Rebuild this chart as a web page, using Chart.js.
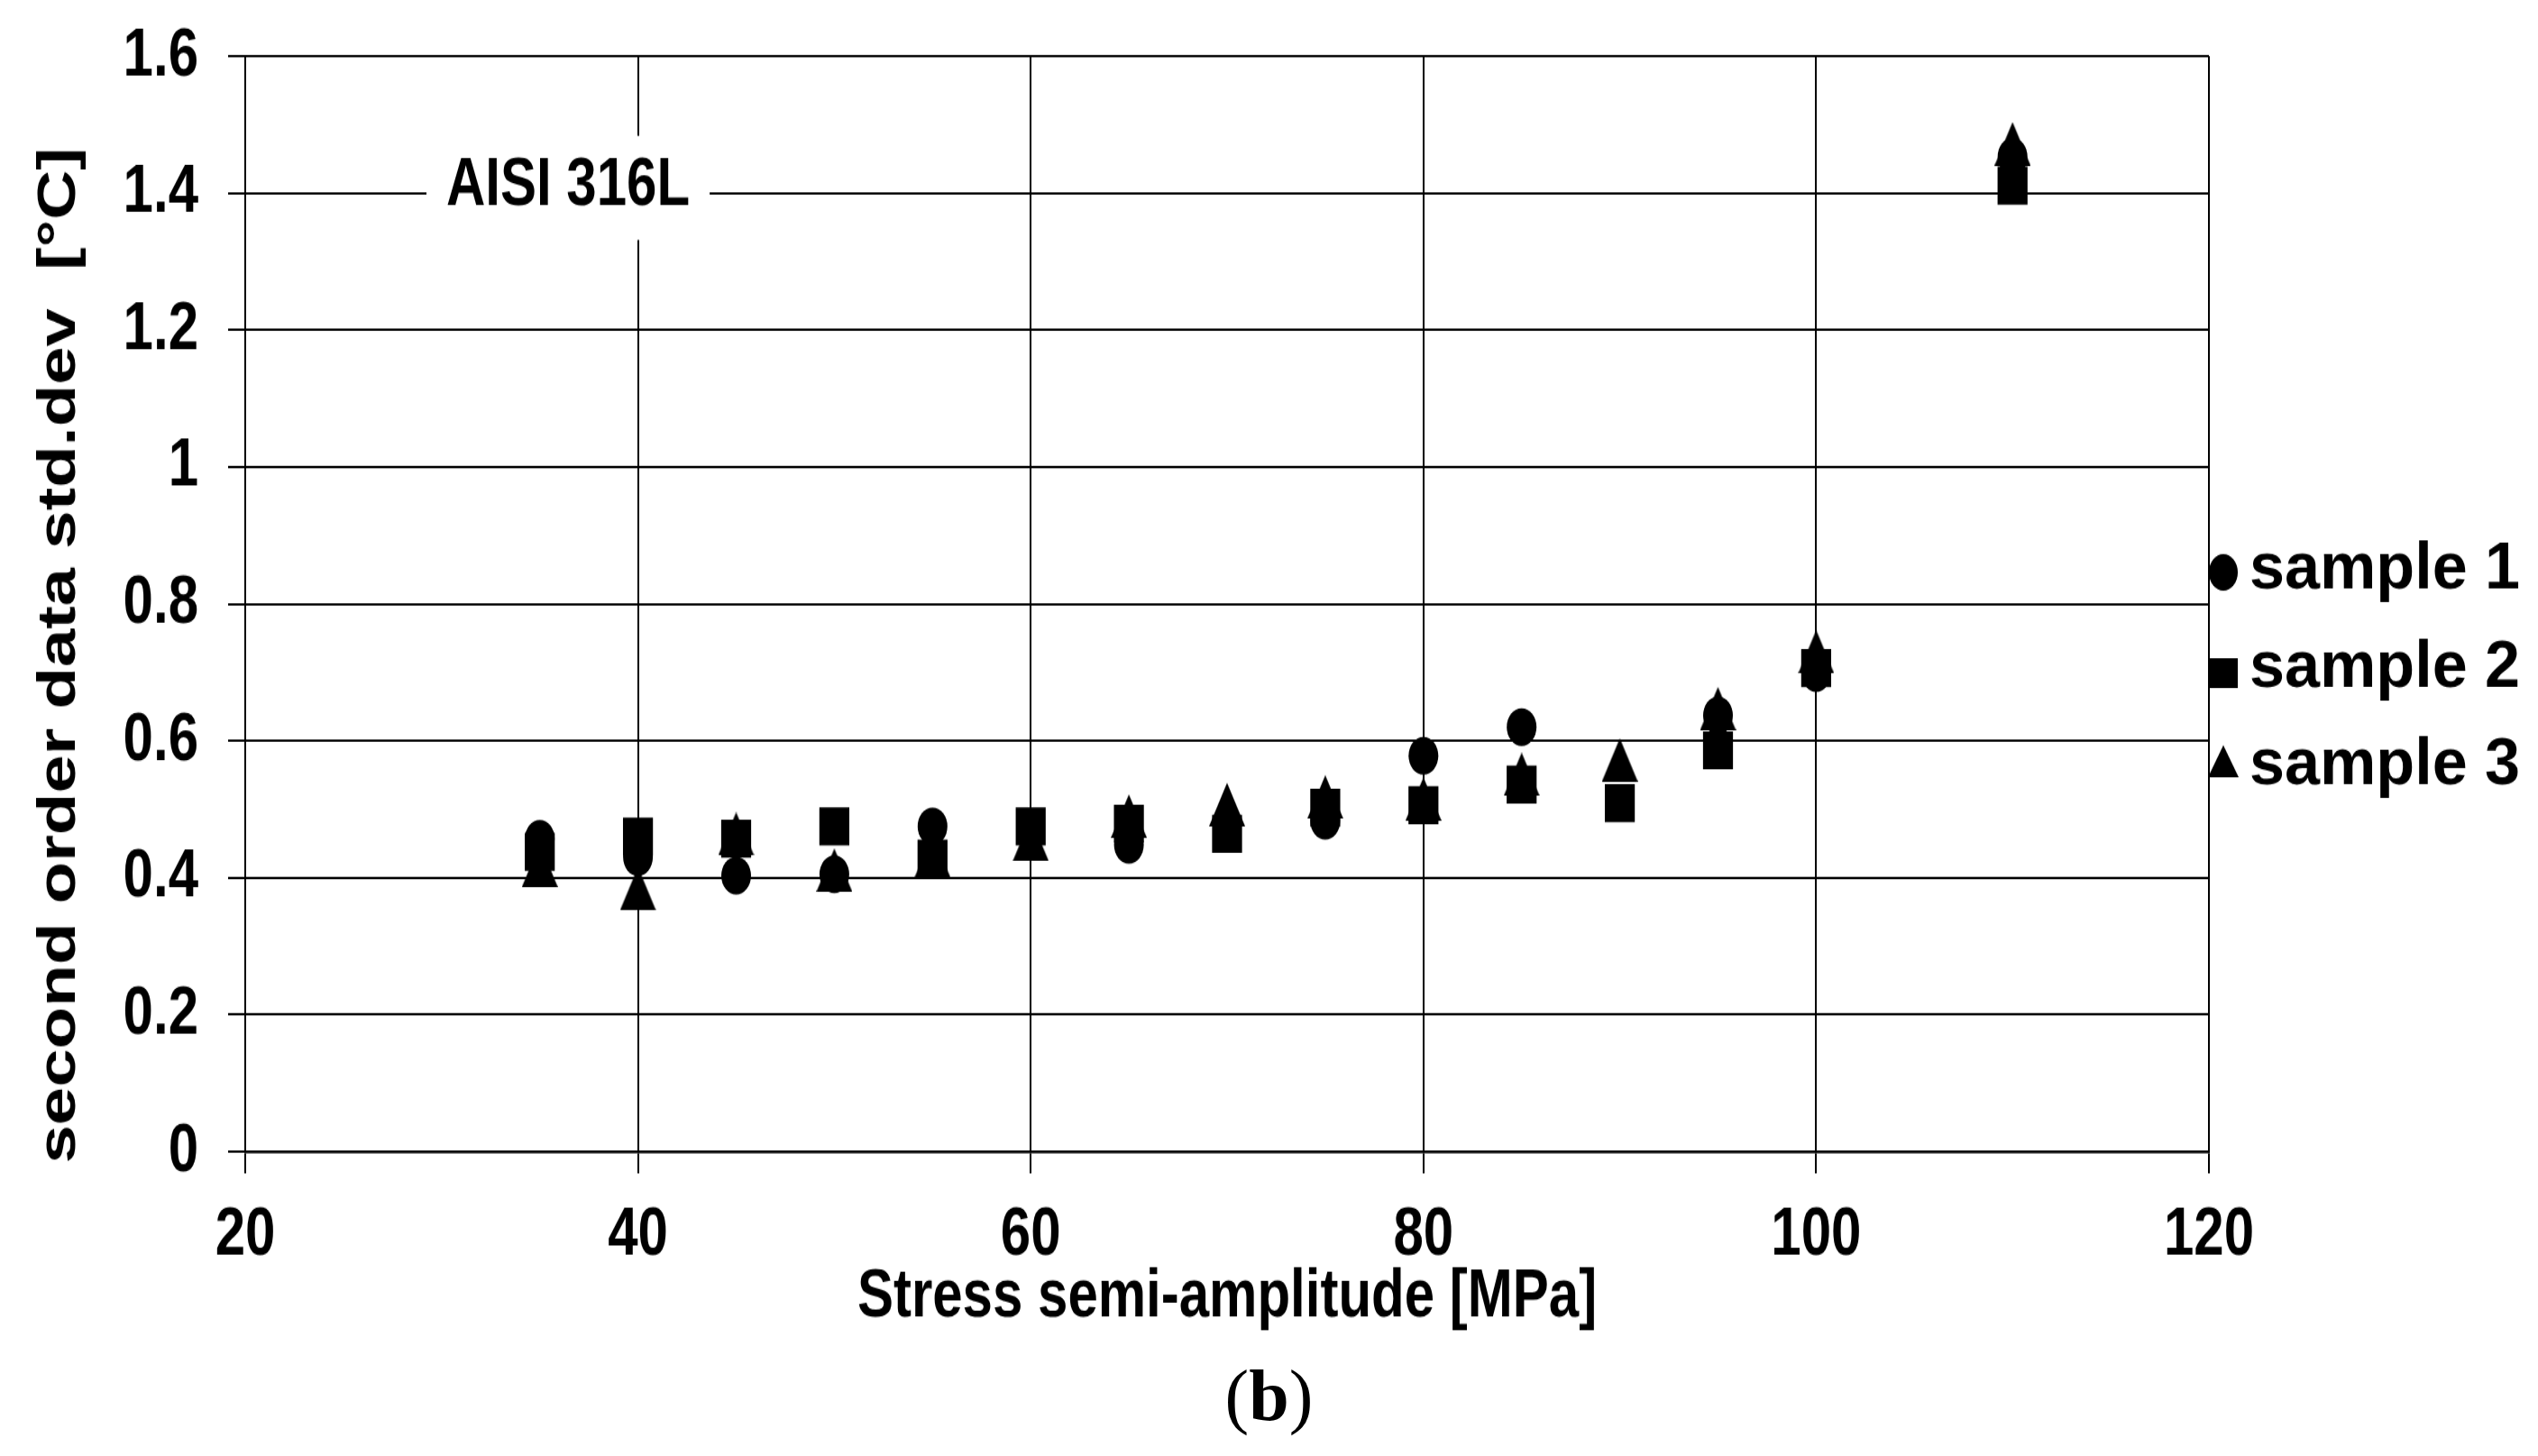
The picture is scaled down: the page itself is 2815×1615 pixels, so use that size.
<!DOCTYPE html>
<html>
<head>
<meta charset="utf-8">
<script src="https://cdn.jsdelivr.net/npm/chart.js@4"></script>
<style>
html, body { margin: 0; padding: 0; background: #fff; }
#page { position: relative; width: 2815px; height: 1615px; overflow: hidden; background: #fff; }
/* the source figure is stretched vertically, so draw at 1272px and stretch */
#wrap { position: absolute; left: 0; top: 0; width: 2815px; height: 1272px; transform: scaleY(1.2697); transform-origin: 0 0; }
#cap { position: absolute; left: 0; top: 1508px; width: 2815px; text-align: center; font: 80px/80px "Liberation Serif", "Times New Roman", serif; color: #000; }
</style>
</head>
<body>
<div id="page">
  <div id="wrap"><canvas id="chart"></canvas></div>
  <div id="cap">(<b>b</b>)</div>
</div>
<script>
// values
const stressX = [35, 40, 45, 50, 55, 60, 65, 70, 75, 80, 85, 90, 95, 100, 110];
const sample1 = [0.457, 0.430, 0.403, 0.405, 0.475, null, 0.448, null, 0.483, 0.578, 0.620, null, 0.637, 0.699, 1.453];
const sample2 = [0.438, 0.460, 0.457, 0.475, 0.428, 0.475, 0.479, 0.464, 0.502, 0.506, 0.536, 0.509, 0.586, 0.706, 1.411];
const sample3 = [0.418, 0.384, 0.464, 0.411, 0.432, 0.456, 0.490, 0.507, 0.518, 0.515, 0.551, 0.572, 0.647, 0.730, 1.472];
const seriesNames = ['sample 1', 'sample 2', 'sample 3'];
const xTickValues = [20, 40, 60, 80, 100, 120];
const xTickLabels = ['20', '40', '60', '80', '100', '120'];
const yTickValues = [0, 0.2, 0.4, 0.6, 0.8, 1.0, 1.2, 1.4, 1.6];
const yTickLabels = ['0', '0.2', '0.4', '0.6', '0.8', '1', '1.2', '1.4', '1.6'];
const xTitle = 'Stress semi-amplitude [MPa]';
const yTitle = 'second order data std.dev  [°C]';
const materialLabel = 'AISI 316L';

const FONT = '"Liberation Sans", Arial, Helvetica, sans-serif';
Chart.defaults.font.family = FONT;
Chart.defaults.color = '#000';

function toPoints(ys) {
  const pts = [];
  stressX.forEach((x, i) => { if (ys[i] !== null) pts.push({ x: x, y: ys[i] }); });
  return pts;
}

// triangle marker centred on its box (like the original plot)
function triangleImg(w, h) {
  const c = document.createElement('canvas');
  c.width = w; c.height = h;
  const g = c.getContext('2d');
  g.fillStyle = '#000';
  g.beginPath();
  g.moveTo(w / 2, 0); g.lineTo(w, h); g.lineTo(0, h);
  g.closePath(); g.fill();
  return c;
}

const extras = {
  id: 'extras',
  afterDraw(chart) {
    const { ctx, scales: { x, y }, chartArea } = chart;
    ctx.save();
    ctx.fillStyle = '#000';

    // material label sitting on the 1.4 grid line
    ctx.font = 'bold 60px ' + FONT;
    const lx = x.getPixelForValue(36.44), ly = y.getPixelForValue(1.4) - 6;
    const tw = ctx.measureText(materialLabel).width;
    ctx.fillStyle = '#fff';
    ctx.fillRect(lx - tw / 2 - 22, ly - 44, tw + 44, 91);
    ctx.fillStyle = '#000';
    ctx.textAlign = 'center';
    ctx.textBaseline = 'middle';
    ctx.fillText(materialLabel, lx, ly);

    // y axis title, a bit below the plot centre as in the original
    ctx.save();
    ctx.translate(66, (chartArea.top + chartArea.bottom) / 2 + 45);
    ctx.rotate(-Math.PI / 2);
    ctx.font = 'bold 60px ' + FONT;
    ctx.fillText(yTitle, 0, 0);
    ctx.restore();

    // legend on the right
    const mx = 2466, tx = 2495;
    const rows = [500, 588, 665];
    const base = [514, 600, 685];
    ctx.textAlign = 'left';
    ctx.textBaseline = 'alphabetic';
    chart.data.datasets.forEach((ds, i) => {
      const cy = rows[i];
      ctx.beginPath();
      if (i === 0) {
        ctx.ellipse(mx, cy, 16, 16, 0, 0, Math.PI * 2);
      } else if (i === 1) {
        ctx.rect(mx - 16, cy - 13, 32, 26);
      } else {
        ctx.moveTo(mx, cy - 14); ctx.lineTo(mx + 17, cy + 14); ctx.lineTo(mx - 17, cy + 14);
        ctx.closePath();
      }
      ctx.fill();
      ctx.save();
      ctx.translate(tx, base[i]);
      ctx.scale(1.23, 1);
      ctx.font = 'bold 57px ' + FONT;
      ctx.fillText(ds.label, 0, 0);
      ctx.restore();
    });
    ctx.restore();
  }
};

const axisFont = { size: 60, weight: 'bold' };

new Chart(document.getElementById('chart'), {
  type: 'scatter',
  data: {
    datasets: [
      { label: seriesNames[0], data: toPoints(sample1), pointStyle: 'circle', pointRadius: 16.5,
        backgroundColor: '#000', borderColor: '#000', borderWidth: 0, order: 2 },
      { label: seriesNames[1], data: toPoints(sample2), pointStyle: 'rect', pointRadius: 23.5,
        backgroundColor: '#000', borderColor: '#000', borderWidth: 0, order: 1 },
      { label: seriesNames[2], data: toPoints(sample3), pointStyle: triangleImg(40, 38), pointRadius: 20,
        backgroundColor: '#000', borderColor: '#000', borderWidth: 0, order: 0 }
    ]
  },
  options: {
    responsive: true,
    maintainAspectRatio: false,
    animation: false,
    layout: { padding: { left: 0, right: 365, top: 49, bottom: 0 } },
    plugins: { legend: { display: false }, tooltip: { enabled: false } },
    scales: {
      x: {
        type: 'linear', min: 20, max: 120,
        afterBuildTicks: s => { s.ticks = xTickValues.map(v => ({ value: v })); },
        afterFit: s => { s.height = 266; },
        ticks: { padding: 18, font: axisFont, color: '#000', callback: (v, i) => xTickLabels[i] },
        grid: { color: '#000', lineWidth: 2, tickLength: 19 },
        border: { color: '#000', width: 2.5 },
        title: { display: true, text: xTitle, font: axisFont, color: '#000', padding: { top: 0, bottom: 103 } }
      },
      y: {
        type: 'linear', min: 0, max: 1.6,
        afterBuildTicks: s => { s.ticks = yTickValues.map(v => ({ value: v })); },
        afterFit: s => { s.width = 272; s.paddingTop = 0; s.paddingBottom = 0; },
        ticks: { padding: 33, font: axisFont, color: '#000', callback: (v, i) => yTickLabels[i] },
        grid: { color: '#000', lineWidth: 2, tickLength: 19 },
        border: { color: '#000', width: 2 }
      }
    }
  },
  plugins: [extras]
});
</script>
</body>
</html>
